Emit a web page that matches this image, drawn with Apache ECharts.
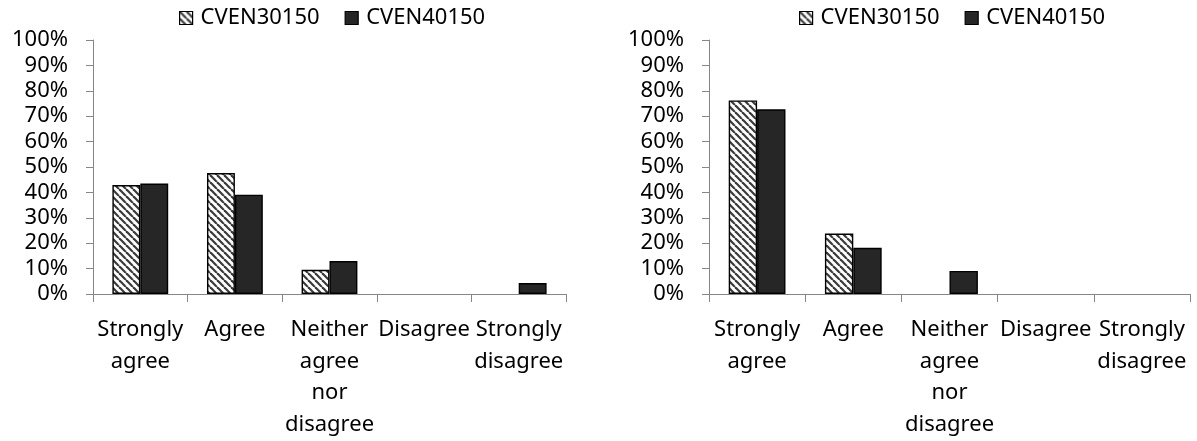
<!DOCTYPE html>
<html><head><meta charset="utf-8">
<script src="https://cdn.jsdelivr.net/npm/echarts@6/dist/echarts.min.js"></script>
<style>html,body{margin:0;padding:0;background:#fff}#c{width:1197px;height:441px}</style>
</head><body><div id="c"></div>
<script>
const categories = ["Strongly agree", "Agree", "Neither agree nor disagree", "Disagree", "Strongly disagree"];
const seriesNames = ["CVEN30150", "CVEN40150"];
// Left chart (%)
const leftCVEN30150 = [42.9, 47.6, 9.5, 0, 0];
const leftCVEN40150 = [43.5, 39.1, 13.0, 0, 4.3];
// Right chart (%)
const rightCVEN30150 = [76.2, 23.8, 0, 0, 0];
const rightCVEN40150 = [72.7, 18.2, 9.1, 0, 0];
const yTicks = {min: 0, max: 100, interval: 10};

const tile = document.createElement('canvas');
tile.width = 7; tile.height = 7;
const tc = tile.getContext('2d');
tc.fillStyle = '#fff'; tc.fillRect(0, 0, 7, 7);
tc.strokeStyle = '#3a3a3a'; tc.lineWidth = 2.2;
[-7, 0, 7].forEach(k => { tc.beginPath(); tc.moveTo(k, 0); tc.lineTo(k + 7, 7); tc.stroke(); });
const hatch = {image: tile, repeat: 'repeat'};

const FONT = 'Noto Sans';
const axisGrey = '#868686';

function xAx(gi) {
  return {
    type: 'category', gridIndex: gi, data: categories,
    axisLine: {lineStyle: {color: axisGrey, width: 1}},
    axisTick: {show: true, inside: false, length: 8, interval: 0, lineStyle: {color: axisGrey}},
    axisLabel: {interval: 0, color: '#000', fontFamily: FONT, fontSize: 22, lineHeight: 31.5, margin: 20,
      formatter: v => v.replace(/ /g, '\n')},
    splitLine: {show: false}
  };
}
function yAx(gi) {
  return {
    type: 'value', gridIndex: gi, min: yTicks.min, max: yTicks.max, interval: yTicks.interval,
    axisLine: {show: true, lineStyle: {color: axisGrey, width: 1}},
    axisTick: {show: true, inside: false, length: 7, lineStyle: {color: axisGrey}},
    axisLabel: {color: '#000', fontFamily: FONT, fontSize: 22, margin: 25, formatter: '{value}%'},
    splitLine: {show: false}
  };
}
function bar(name, data, gi, col) {
  return {
    name: name, type: 'bar', xAxisIndex: gi, yAxisIndex: gi,
    data: data.map(v => v === 0 ? {value: v, itemStyle: {borderWidth: 0, opacity: 0}} : v),
    barGap: '0%', barCategoryGap: '41%',
    itemStyle: {color: col, borderColor: '#000', borderWidth: 1.4},
    emphasis: {disabled: true}, animation: false
  };
}
function legend(left) {
  return {
    left: left, top: 7, padding: 0, itemWidth: 13, itemHeight: 13, itemGap: 25, icon: 'rect',
    data: seriesNames,
    itemStyle: {borderColor: '#000', borderWidth: 1.2},
    textStyle: {color: '#000', fontFamily: FONT, fontSize: 22, padding: [0, 0, 0, 3]}
  };
}

const chart = echarts.init(document.getElementById('c'), null, {renderer: 'canvas'});
chart.setOption({
  animation: false,
  textStyle: {fontFamily: FONT},
  legend: [legend(179), legend(799)],
  grid: [
    {left: 93, right: 631, top: 40, bottom: 147},
    {left: 709, right: 7, top: 40, bottom: 147}
  ],
  xAxis: [xAx(0), xAx(1)],
  yAxis: [yAx(0), yAx(1)],
  series: [
    bar(seriesNames[0], leftCVEN30150, 0, hatch),
    bar(seriesNames[1], leftCVEN40150, 0, '#262626'),
    bar(seriesNames[0], rightCVEN30150, 1, hatch),
    bar(seriesNames[1], rightCVEN40150, 1, '#262626')
  ]
});
</script></body></html>
